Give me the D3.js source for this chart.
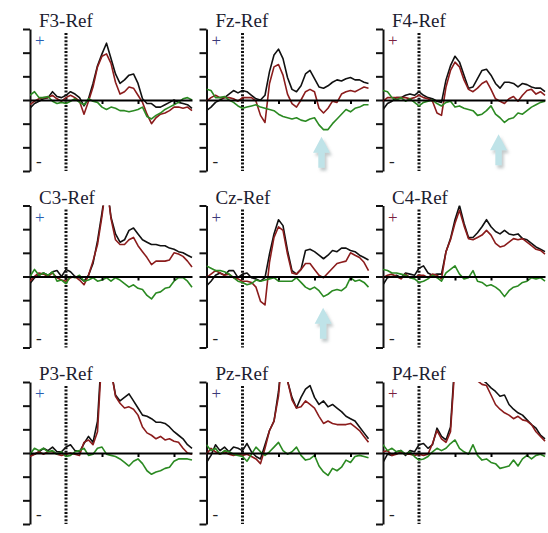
<!DOCTYPE html>
<html>
<head>
<meta charset="utf-8">
<script src="https://cdn.jsdelivr.net/npm/d3@7"></script>
<style>
  html, body { margin: 0; padding: 0; background: #fff; }
  svg { display: block; }
  .label { font-family: "Liberation Serif", serif; font-size: 19px; fill: #1c2030; }
  .sign  { font-family: "Liberation Serif", serif; font-size: 17px; }
  .trace { fill: none; stroke-width: 1.6; stroke-linejoin: round; }
</style>
</head>
<body>
<svg id="chart" width="548" height="533"></svg>
<script>
// time axis (ms) and amplitude ticks (µV)
const times = [-200, -175, -150, -125, -100, -75, -50, -25, 0, 25, 50, 75, 100, 125, 150, 175, 200, 225,
  250, 275, 300, 325, 350, 375, 400, 425, 450, 475, 500, 525, 550, 575, 600, 625, 650, 675, 700]
const channels = ["F3", "Fz", "F4", "C3", "Cz", "C4", "P3", "Pz", "P4"]
const yTicks = [-6, -4, -2, 0, 2, 4, 6]
const xTicks = [200, 400, 600]

// condition 1 (black)
const blackF3 = [-0.7,-0.3,-0.1,0.1,0.2,0.7,0.3,0.2,0.4,0.7,0.5,0.2,-0.5,0.1,1.4,2.9,3.9,4.8,3.5,2.2,1.4,1.7,2.1,2.2,1.4,0.1,-0.3,-0.3,-0.6,-0.6,-0.4,-0.2,0,-0.2,-0.3,-0.4,-0.7]
const blackFz = [-0.9,-0.6,-0.2,0,0.2,0.5,0.8,0.6,0.8,0.7,0.4,0.1,0,0.4,2.4,3.8,4.3,3.5,1.9,0.9,0.7,1.2,2.2,2.5,1.8,1.1,1.0,1.2,1.5,1.7,1.6,1.8,1.9,1.7,1.7,1.5,1.4]
const blackF4 = [-0.8,-0.3,-0.1,0.2,0.2,0.4,0.5,0.4,0.7,0.4,0.2,0.1,-0.1,-0.2,1.7,2.9,3.7,3.2,2.1,1.0,1.1,1.8,2.5,2.6,2.1,1.4,1.0,1.5,1.5,1.4,1.1,1.4,1.3,1.1,1.0,1.0,0.7]
const blackC3 = [-0.6,-0.1,0.1,0.3,0.1,0.4,0.5,0,0.6,0.4,0,-0.1,-0.4,0.1,1.1,3.0,5.4,8.0,5.0,3.6,2.9,3.1,3.9,4.1,3.6,3.1,2.9,2.7,2.7,2.6,2.6,2.4,2.3,2.1,2.0,1.8,1.6]
const blackCz = [-0.8,-0.4,0.1,0.3,0.1,0.5,0.5,-0.1,0.2,0.3,-0.1,-0.2,-0.4,-0.1,1.9,3.6,4.8,4.3,2.2,0.5,0.2,0.6,2.2,2.3,2.1,1.8,1.5,1.8,2.2,2.1,2.4,2.4,2.2,2.1,1.8,1.6,1.4]
const blackC4 = [-0.7,-0.1,0,0.1,-0.1,0.3,0.2,0.1,0.7,0.9,0.3,0.1,0.2,0.2,2.1,3.2,4.8,6.0,4.5,3.3,3.3,3.7,4.2,4.8,4.2,3.8,3.6,3.9,3.6,3.5,3.6,3.2,3.1,2.8,2.5,2.3,2.1]
const blackP3 = [-0.2,-0.1,0.1,0.4,0.2,0.5,0.1,0.1,0.5,0.7,0.2,0.1,0.8,1.4,0.9,2.7,9.0,11.0,7.0,4.9,4.4,4.7,5.0,4.4,3.8,3.2,3.1,2.9,2.6,2.6,2.5,2.2,1.8,1.5,1.2,0.7,0.4]
const blackPz = [-0.8,-0.2,0.7,0.2,0.5,0.1,0.5,0.4,0.2,0.8,0.1,-0.3,-0.5,0.7,1.9,2.7,5.2,9.0,6.1,4.7,3.8,4.7,5.4,5.7,4.7,4.1,4.4,3.9,4.1,3.8,3.5,3.1,2.9,2.7,2.2,1.7,1.2]
const blackP4 = [-0.8,-0.1,-0.2,0.1,0.2,-0.2,0.2,0.1,0.7,0.8,0.4,0.7,2.1,1.4,1.1,2.2,8.0,10.0,10.5,10.0,8.5,6.5,6.2,5.9,5.5,5.2,4.8,4.9,4.1,3.7,3.4,3.2,2.8,2.4,2.1,1.5,1.2]

// condition 2 (dark red)
const redF3 = [-0.4,-0.1,0.1,0.2,0.2,0.4,0.1,-0.1,0.2,0.4,0.2,-0.1,-1.2,-0.1,1.1,2.8,3.7,3.9,3.1,1.5,0.5,0.7,1.1,1.0,0.4,-0.2,-1.2,-2.0,-1.5,-1.2,-1.1,-0.9,-0.6,-0.6,-0.7,-0.6,-0.9]
const redFz = [-0.1,0.2,0.4,0.2,0.2,0.2,0.1,-0.1,0.2,0.2,0.2,-0.1,-1.3,-1.9,1.4,2.8,3.0,2.1,0.5,-0.3,-0.6,0,0.7,0.9,0.7,-0.7,-1.1,-0.7,-0.1,-0.2,0.5,0.7,0.8,0.7,0.9,1.1,1.0]
const redF4 = [-0.1,0.2,0.2,0.2,0.2,0.2,0.1,0.2,0.4,0.2,0.1,-0.1,-1.1,-1.3,1.1,2.5,3.2,2.8,1.7,0.9,0.7,1.0,1.4,1.6,0.9,0.1,-0.1,-0.3,0.1,0.3,-0.1,0.4,0.8,0.9,0.5,0.7,0.4]
const redC3 = [-0.4,0,0.3,0.2,0,0.3,-0.1,-0.3,-0.4,-0.1,0,-0.3,-0.7,0.1,1.3,2.7,5.1,8.0,4.9,3.1,2.7,2.7,3.1,3.3,2.6,2.1,1.6,1.0,1.3,1.3,1.3,1.4,2.0,1.9,1.7,1.3,0.8]
const redCz = [-0.1,0.2,0.5,0.3,0.1,0.2,-0.1,-0.2,-0.4,-0.4,-0.5,-0.9,-2.1,-2.4,1.2,3.3,4.2,3.9,1.9,0.3,0.2,0.6,1.1,1.1,0.6,0.1,-0.1,0.3,0.7,1.1,1.2,1.3,2.0,1.8,1.6,1.2,0.5]
const redC4 = [-0.1,0.1,0.2,0,-0.2,0.2,-0.1,-0.1,0.1,0.1,-0.1,0.2,0.1,-0.2,2.1,3.1,4.5,5.6,4.3,3.2,3.1,3.3,3.5,3.9,3.5,2.8,2.5,2.6,2.9,3.2,3.1,3.2,2.9,2.6,2.3,2.2,1.9]
const redP3 = [-0.3,-0.1,0.1,-0.1,0.1,0.1,-0.1,-0.2,-0.1,0,-0.1,-0.2,0.9,1.1,0.7,1.8,8.5,10.5,7.0,4.8,4.2,3.8,3.9,3.7,3.2,2.2,1.7,1.5,1.2,1.4,1.1,1.2,1.0,0.9,0.4,0,-0.1]
const redPz = [-0.1,0.4,0.1,-0.1,0.1,-0.1,-0.2,-0.1,-0.2,-0.1,-0.3,-0.5,-0.9,0.4,1.9,2.7,4.8,9.0,6.1,4.5,3.8,3.9,4.4,4.1,3.8,3.1,2.5,2.7,2.5,2.4,2.4,2.4,2.5,2.2,1.9,1.4,0.9]
const redP4 = [0.1,0.2,-0.2,-0.1,0.1,-0.1,-0.1,-0.2,-0.1,-0.2,-0.1,0.8,1.9,1.2,0.9,1.8,7.5,10.0,10.5,10.0,8.5,6.1,5.8,5.7,4.9,4.1,3.7,3.4,3.2,2.9,3.1,2.8,2.7,2.4,1.8,1.4,1.0]

// difference wave (green)
const greenF3 = [0.4,0.7,0.2,0.2,0.3,-0.1,-0.3,-0.2,-0.3,-0.1,0.1,-0.2,-0.4,0.1,-0.1,-0.2,-0.6,-0.8,-0.6,-0.7,-0.9,-0.9,-1.0,-0.9,-0.8,-0.6,-1.4,-1.6,-1.3,-1.1,-0.8,-0.6,-0.4,-0.2,0.1,0.2,0]
const greenFz = [0.9,0.8,0.2,0.2,0.3,0,-0.2,-0.5,-0.7,-0.6,-0.5,-0.4,-0.6,-0.7,-0.8,-0.9,-1.2,-1.4,-1.5,-1.6,-1.5,-1.7,-1.8,-1.6,-1.5,-2.1,-2.5,-2.5,-2.0,-1.6,-1.2,-0.8,-1.0,-0.7,-0.6,-0.4,-0.4]
const greenF4 = [0.8,0.7,0.2,0,0.2,-0.1,0.1,-0.2,-0.5,-0.2,-0.1,0,-0.3,-0.5,-0.2,-0.1,-0.6,-0.5,-0.7,-0.8,-0.9,-1.3,-1.2,-0.9,-0.5,-1.2,-1.5,-1.9,-1.6,-1.5,-1.1,-1.2,-0.9,-0.6,-0.4,-0.2,-0.1]
const greenC3 = [0,0.6,0.1,0.3,0.1,0.4,-0.4,-0.3,-0.6,0,-0.1,0.1,-0.4,-0.3,-0.1,-0.4,-0.3,-0.1,-0.4,-0.1,-0.3,-0.6,-0.9,-0.7,-1.0,-1.1,-1.6,-1.9,-1.4,-1.3,-1.0,-0.9,-0.4,-0.1,-0.1,-0.4,-0.9]
const greenCz = [0.9,0.7,0.5,0.5,0.4,0.2,-0.1,-0.4,-0.5,-0.7,-0.6,-0.3,-0.4,-0.3,-0.2,-0.1,-0.4,-0.4,-0.4,-0.4,-0.1,-0.5,-0.9,-1.1,-0.9,-1.2,-1.7,-1.5,-1.2,-1.1,-1.2,-0.9,-0.1,-0.4,-0.3,-0.5,-0.9]
const greenC4 = [0.6,0.5,0.3,0.3,0.2,0.1,-0.1,-0.2,-0.5,-0.4,-0.2,0.1,-0.1,-0.4,0.3,0.6,0.9,0.2,-0.2,-0.1,0.5,-0.4,-0.5,-0.8,-0.7,-0.9,-1.2,-1.7,-1.2,-0.9,-0.8,-0.5,-0.4,-0.1,-0.2,-0.1,-0.4]
const greenP3 = [-0.1,0.4,0.2,0.4,0.1,0.2,-0.1,0.1,-0.3,-0.2,0.1,0.2,0.4,-0.2,-0.1,0.4,0.5,-0.1,-0.2,-0.3,-0.5,-0.8,-1.1,-0.7,-0.5,-0.9,-1.5,-1.8,-1.6,-1.5,-1.3,-1.2,-0.7,-0.5,-0.5,-0.5,-0.6]
const greenPz = [0.7,0.2,0.4,-0.1,0.2,0.1,-0.1,-0.2,-0.3,-0.7,-0.1,0.5,0.1,-0.2,0.1,0.5,0.9,0.2,-0.1,0.1,0.5,-0.2,-0.6,-0.5,-0.2,-1.1,-1.6,-1.9,-1.3,-1.5,-1.2,-0.6,-0.8,-0.3,-0.2,-0.3,-0.4]
const greenP4 = [0.7,0.2,0.4,0.1,0.2,-0.1,0.1,-0.3,-0.6,-0.5,-0.3,0.1,0.4,0.2,0.4,0.8,1.1,0.4,0.1,-0.1,0.7,-0.2,-0.6,-0.5,-0.8,-0.9,-1.3,-1.2,-1.1,-0.6,-1.1,-0.5,-0.2,-0.5,-0.2,-0.1,-0.3]

// highlighted effects (arrow tips, ms / µV)
const arrowChannels = ["Fz", "F4", "Cz"]
const arrowTimes = [439, 442, 448]
const arrowAmps = [-3.1, -2.9, -2.65]

const waves = {
  F3: [blackF3, redF3, greenF3], Fz: [blackFz, redFz, greenFz], F4: [blackF4, redF4, greenF4],
  C3: [blackC3, redC3, greenC3], Cz: [blackCz, redCz, greenCz], C4: [blackC4, redC4, greenC4],
  P3: [blackP3, redP3, greenP3], Pz: [blackPz, redPz, greenPz], P4: [blackP4, redP4, greenP4]
}
const traceColors = ["#111", "#8b1c1c", "#2b8a22"]
const plusColors  = ["#2a5db0", "#3a3a78", "#7a2040"]

const svg = d3.select("#chart")
const defs = svg.append("defs")

const shadow = defs.append("filter").attr("id", "arrowShadow")
  .attr("x", "-50%").attr("y", "-50%").attr("width", "200%").attr("height", "200%")
shadow.append("feDropShadow")
  .attr("dx", 2).attr("dy", 3).attr("stdDeviation", 1.8)
  .attr("flood-color", "#7a8a8c").attr("flood-opacity", 0.45)

const panelW = 162, panelH = 142, step = 176.5

channels.forEach((ch, i) => {
  const col = i % 3, row = Math.floor(i / 3)
  const left = 30 + col * step
  const top  = 29 + row * step

  const x = d3.scaleLinear().domain([-200, 700]).range([left, left + panelW])
  const y = d3.scaleLinear().domain([-6, 6]).range([top + panelH, top])

  const g = svg.append("g").attr("class", "panel")

  defs.append("clipPath").attr("id", `clip-${ch}`)
    .append("rect").attr("x", left).attr("y", top).attr("width", panelW + 2).attr("height", panelH)

  // title
  g.append("text").attr("class", "label")
    .attr("x", left + 9).attr("y", top - 2)
    .text(`${ch}-Ref`)

  // amplitude axis, ticks pointing left
  g.append("g")
    .attr("transform", `translate(${left},0)`)
    .call(d3.axisLeft(y).tickValues(yTicks).tickSize(7).tickSizeOuter(0).tickFormat(""))
    .call(s => s.selectAll("path, line").attr("stroke", "#111").attr("stroke-width", 2))

  // polarity marks
  g.append("text").attr("class", "sign")
    .attr("x", left + 5).attr("y", top + 17)
    .attr("fill", plusColors[col]).text("+")
  g.append("text").attr("class", "sign")
    .attr("x", left + 6).attr("y", top + 138)
    .attr("fill", "#222").text("-")

  // stimulus onset
  g.append("line")
    .attr("x1", x(0)).attr("x2", x(0))
    .attr("y1", y(6) + 4).attr("y2", y(-6))
    .attr("stroke", "#111").attr("stroke-width", 3)
    .attr("stroke-dasharray", "2,1.6")

  // traces
  const line = d3.line().x((d, j) => x(times[j])).y(d => y(d))
  const tg = g.append("g").attr("clip-path", `url(#clip-${ch})`)
  waves[ch].forEach((vals, k) => {
    tg.append("path").attr("class", "trace")
      .attr("d", line(vals))
      .attr("stroke", traceColors[k])
  })

  // zero line with time ticks
  g.append("g")
    .attr("transform", `translate(0,${y(0)})`)
    .call(d3.axisBottom(x).tickValues(xTicks).tickSize(4).tickSizeOuter(0).tickFormat(""))
    .call(s => s.selectAll("path, line").attr("stroke", "#000").attr("stroke-width", 2))

  // arrow
  const a = arrowChannels.indexOf(ch)
  if (a >= 0) {
    const ax = x(arrowTimes[a]), ay = y(arrowAmps[a])
    g.append("path")
      .attr("d", `M${ax},${ay} L${ax + 8.5},${ay + 16} L${ax + 3.2},${ay + 16} L${ax + 3.2},${ay + 31}` +
                 ` L${ax - 3.2},${ay + 31} L${ax - 3.2},${ay + 16} L${ax - 8.5},${ay + 16} Z`)
      .attr("fill", "#bfe3e8")
      .attr("filter", "url(#arrowShadow)")
  }
})
</script>
</body>
</html>
